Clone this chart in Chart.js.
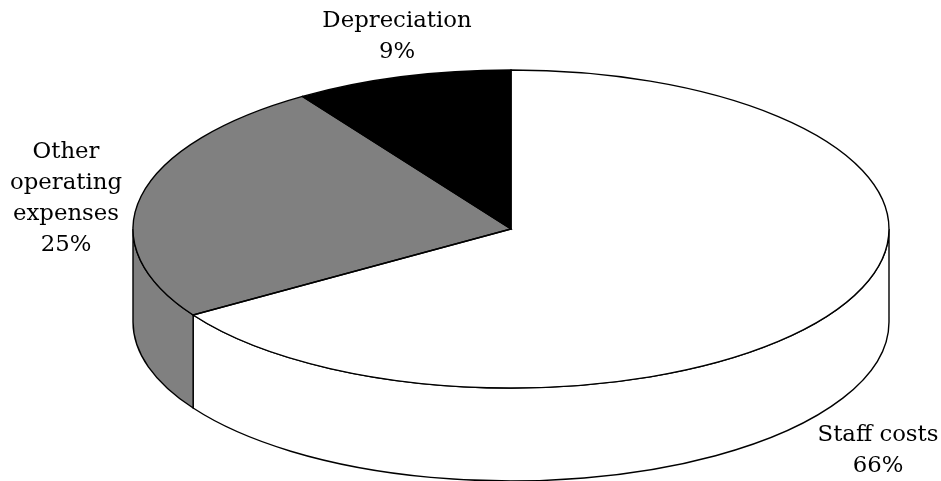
<!DOCTYPE html>
<html>
<head>
<meta charset="utf-8">
<script src="https://cdn.jsdelivr.net/npm/chart.js@4"></script>
<style>
html, body { margin: 0; padding: 0; background: #fff; }
#wrap { width: 941px; height: 481px; }
</style>
</head>
<body>
<div id="wrap"><canvas id="pie" width="941" height="481"></canvas></div>
<script>
const categories = ['Staff costs', 'Other operating expenses', 'Depreciation'];
const values = [65.9, 24.8, 9.3];
const sliceColors = ['#ffffff', '#808080', '#000000'];
const labelLines = [['Staff costs', '66%'], ['Other', 'operating', 'expenses', '25%'], ['Depreciation', '9%']];
const labelCenters = [[878, 451], [66, 199], [397, 37]];

const squash = 159 / 378;
const depth = 93;

// the pie is drawn flat by the library, this plugin tilts it and adds the wall
const tilt = {
    id: 'tilt',
    beforeDatasetsDraw(chart) {
        const ctx = chart.ctx;
        const arcs = chart.getDatasetMeta(0).data;
        arcs.forEach(function(arc, i) {
            const a = Math.max(arc.startAngle, 0);
            const b = Math.min(arc.endAngle, Math.PI);
            if (b <= a) return;
            const rx = arc.outerRadius;
            const ry = rx * squash;
            ctx.beginPath();
            ctx.ellipse(arc.x, arc.y, rx, ry, 0, a, b);
            ctx.ellipse(arc.x, arc.y + depth, rx, ry, 0, b, a, true);
            ctx.closePath();
            ctx.fillStyle = sliceColors[i];
            ctx.fill();
            ctx.strokeStyle = '#000';
            ctx.lineWidth = 1.4;
            ctx.stroke();
        });
        const c = arcs[0];
        ctx.save();
        ctx.translate(c.x, c.y);
        ctx.scale(1, squash);
        ctx.translate(-c.x, -c.y);
    },
    afterDatasetsDraw(chart) {
        const ctx = chart.ctx;
        const arcs = chart.getDatasetMeta(0).data;
        // path under the squash, stroke after restore so the line stays even
        const c = arcs[0];
        ctx.restore();
        const m = new DOMMatrix().translate(c.x, c.y).scale(1, squash).translate(-c.x, -c.y);
        ctx.strokeStyle = '#000';
        ctx.lineWidth = 1.4;
        arcs.forEach(function(arc) {
            const p = new Path2D();
            p.moveTo(arc.x, arc.y);
            p.arc(arc.x, arc.y, arc.outerRadius, arc.startAngle, arc.endAngle);
            p.closePath();
            const flat = new Path2D();
            flat.addPath(p, m);
            ctx.stroke(flat);
        });

        ctx.fillStyle = '#000';
        ctx.font = '22.8px "DejaVu Serif"';
        ctx.textAlign = 'center';
        ctx.textBaseline = 'middle';
        labelLines.forEach(function(lines, i) {
            const [x, y] = labelCenters[i];
            lines.forEach(function(t, j) {
                ctx.fillText(t, x, y + (j - (lines.length - 1) / 2) * 31);
            });
        });
    }
};

new Chart(document.getElementById('pie'), {
    type: 'pie',
    data: {
        labels: categories,
        datasets: [{
            data: values,
            backgroundColor: sliceColors,
            borderWidth: 0
        }]
    },
    options: {
        responsive: false,
        animation: false,
        radius: 378,
        layout: { padding: { left: 81, bottom: 23 } },
        plugins: { legend: { display: false }, tooltip: { enabled: false } }
    },
    plugins: [tilt]
});
</script>
</body>
</html>
